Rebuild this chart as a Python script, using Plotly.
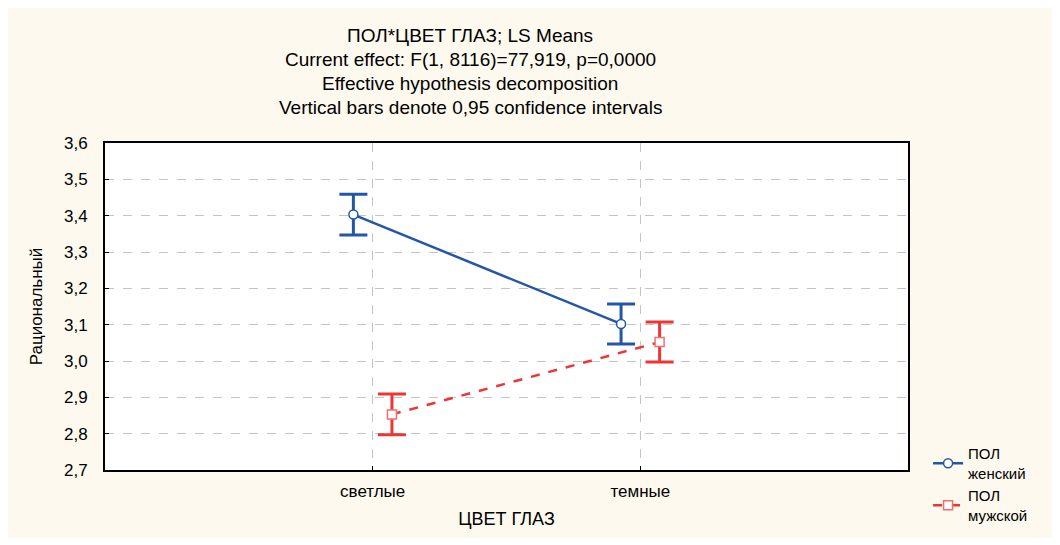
import plotly.graph_objects as go
import numpy as np

categories = ["светлые", "темные"]
female_mean = [3.403, 3.102]
female_ci = [0.056, 0.055]
male_mean = [2.853, 3.052]
male_ci = [0.056, 0.055]
y_ticks = [2.7, 2.8, 2.9, 3.0, 3.1, 3.2, 3.3, 3.4, 3.5, 3.6]

title_lines = [
    "ПОЛ*ЦВЕТ ГЛАЗ; LS Means",
    "Current effect: F(1, 8116)=77,919, p=0,0000",
    "Effective hypothesis decomposition",
    "Vertical bars denote 0,95 confidence intervals",
]

blue = "#2357A6"
red = "#EE3535"
font = "Liberation Sans, Arial, sans-serif"

# plot box in page pixels
L, R, T, B = 105, 908, 143, 470
PW, PH = R - L, B - T
SHIFT = 8  # page offset of the figure

x_idx = np.arange(len(categories))
dodge = 0.072

fig = go.Figure()

fig.add_trace(go.Scatter(
    x=x_idx - dodge, y=female_mean,
    mode="lines+markers",
    name="ПОЛ<br>женский",
    line=dict(color=blue, width=2.5),
    marker=dict(symbol="circle", size=9, color="white",
                line=dict(color=blue, width=1.5)),
    error_y=dict(type="data", array=female_ci, color=blue,
                 thickness=3, width=14),
))

fig.add_trace(go.Scatter(
    x=x_idx + dodge, y=male_mean,
    mode="lines+markers",
    name="ПОЛ<br>мужской",
    line=dict(color=red, width=2.5, dash="dash"),
    marker=dict(symbol="square", size=9, color="white",
                line=dict(color="#F07070", width=1.5)),
    error_y=dict(type="data", array=male_ci, color=red,
                 thickness=3, width=14),
))

# cream background behind everything
fig.add_shape(type="rect", xref="paper", yref="paper", layer="below",
              x0=(6 - L) / PW, x1=(1056 - L) / PW,
              y0=(B - 538) / PH, y1=(B - 7) / PH,
              fillcolor="#FDF9EE", line=dict(width=0))
# white plot area
fig.add_shape(type="rect", xref="paper", yref="paper", layer="below",
              x0=0, x1=1, y0=0, y1=1,
              fillcolor="white", line=dict(width=0))

# title lines
line_centers = [36, 59.5, 83, 107]
for txt, cy in zip(title_lines, line_centers):
    fig.add_annotation(text=txt, xref="paper", yref="paper",
                       x=(470 - L) / PW, y=(B - cy) / PH,
                       xanchor="center", yanchor="middle", showarrow=False,
                       font=dict(family=font, size=19, color="black"))

fig.update_layout(
    width=1060, height=545,
    margin=dict(l=L - SHIFT, r=1060 - (R - SHIFT), t=T - SHIFT,
                b=545 - (B - SHIFT)),
    paper_bgcolor="white",
    plot_bgcolor="rgba(0,0,0,0)",
    font=dict(family=font, size=16, color="black"),
    showlegend=True,
    legend=dict(x=1.025, y=0.1, xanchor="left", yanchor="top",
                bgcolor="rgba(0,0,0,0)", font=dict(size=15),
                tracegroupgap=0, itemwidth=30),
    xaxis=dict(
        range=[-1, 2], tickvals=list(x_idx), ticktext=categories,
        showgrid=True, gridcolor="#C4C4C4", griddash="dash", gridwidth=1,
        zeroline=False, showline=True, linecolor="black", linewidth=2,
        mirror=True, ticks="inside", ticklen=4, tickcolor="black",
        tickfont=dict(size=17), ticklabelstandoff=5,
        title=dict(text="ЦВЕТ ГЛАЗ", font=dict(size=18), standoff=12),
    ),
    yaxis=dict(
        range=[2.7, 3.6], tickvals=y_ticks,
        ticktext=[f"{v:.1f}".replace(".", ",") for v in y_ticks],
        showgrid=True, gridcolor="#C4C4C4", griddash="dash", gridwidth=1,
        zeroline=False, showline=True, linecolor="black", linewidth=2,
        mirror=True, ticks="inside", ticklen=4, tickcolor="black",
        tickfont=dict(size=17), ticklabelstandoff=12,
        title=dict(text="Рациональный", font=dict(size=17), standoff=17),
    ),
)

fig.write_html("out.html")
